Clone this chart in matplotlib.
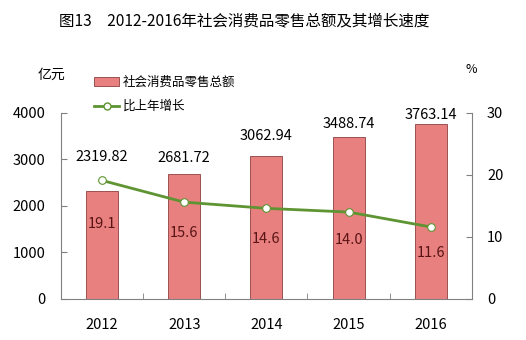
import matplotlib
matplotlib.use("Agg")
from matplotlib import pyplot as plt
from matplotlib.lines import Line2D
from matplotlib.patches import Patch

plt.rcParams['font.family'] = ['Noto Sans CJK SC', 'DejaVu Sans']

# 数据
years = ["2012", "2013", "2014", "2015", "2016"]
sales = [2319.82, 2681.72, 3062.94, 3488.74, 3763.14]   # 亿元
growth = [19.1, 15.6, 14.6, 14.0, 11.6]                 # %

# 标注偏移（像素）
sales_off = [34, 16, 20, 13, 9]
growth_off = [44, 31, 31, 28, 26]

fig = plt.figure(figsize=(5.26, 3.40), dpi=100)
ax = fig.add_axes([0.116, 0.121, 0.781, 0.547])
ax2 = ax.twinx()

x = list(range(len(years)))
ax.bar(x, sales, width=0.39, color='#E88080', edgecolor='#8B4040', linewidth=0.6, zorder=2)
ax2.plot(x, growth, color='#5E9432', linewidth=2.0, marker='o', markersize=5.5,
         markerfacecolor='white', markeredgecolor='#5E9432', markeredgewidth=0.8, zorder=3)

ax.set_xlim(-0.5, 4.5)
ax.set_ylim(0, 4000)
ax2.set_ylim(0, 30)
ax.set_yticks([0, 1000, 2000, 3000, 4000])
ax2.set_yticks([0, 10, 20, 30])
ax.set_xticks(x)
ax.set_xticklabels(years)
ax.set_xticks([0.5, 1.5, 2.5, 3.5], minor=True)

for a in (ax, ax2):
    a.spines['top'].set_visible(False)
    for s in a.spines.values():
        s.set_color('#808080')
        s.set_linewidth(0.8)
ax.spines['right'].set_visible(False)
ax2.spines['left'].set_visible(False)
ax2.spines['bottom'].set_visible(False)

ax.tick_params(axis='y', direction='in', length=4, color='#808080', labelsize=10.5, pad=11)
ax2.tick_params(axis='y', direction='in', length=4, color='#808080', labelsize=10.5, pad=11)
ax.tick_params(axis='x', which='major', length=0, labelsize=10.5, pad=14)
ax.tick_params(axis='x', which='minor', direction='in', length=4, color='#808080')

for i, v in enumerate(sales):
    ax.annotate(f"{v:.2f}", (i, v), xytext=(0, sales_off[i] * 0.72), textcoords='offset points',
                ha='center', va='center', fontsize=10.5, color='black')
for i, g in enumerate(growth):
    ax2.annotate(f"{g:.1f}", (i, g), xytext=(0, -growth_off[i] * 0.72), textcoords='offset points',
                 ha='center', va='center', fontsize=10.5, color='#5A1414', zorder=5)

fig.text(0.465, 0.94, "图13　2012-2016年社会消费品零售总额及其增长速度", ha='center', va='center', fontsize=11.2)
fig.text(0.098, 0.78, "亿元", ha='center', va='center', fontsize=10)
fig.text(0.895, 0.795, "%", ha='center', va='center', fontsize=9)

handles = [Patch(facecolor='#E88080', edgecolor='#8B4040', linewidth=0.6),
           Line2D([], [], color='#5E9432', linewidth=2.0, marker='o', markersize=5,
                  markerfacecolor='white', markeredgecolor='#5E9432')]
fig.legend(handles, ["社会消费品零售总额", "比上年增长"], loc='upper left',
           bbox_to_anchor=(0.158, 0.81), frameon=False, fontsize=9,
           handlelength=2.0, handleheight=0.7, labelspacing=0.9, handletextpad=0.3)

fig.savefig("out.png", dpi=100)
